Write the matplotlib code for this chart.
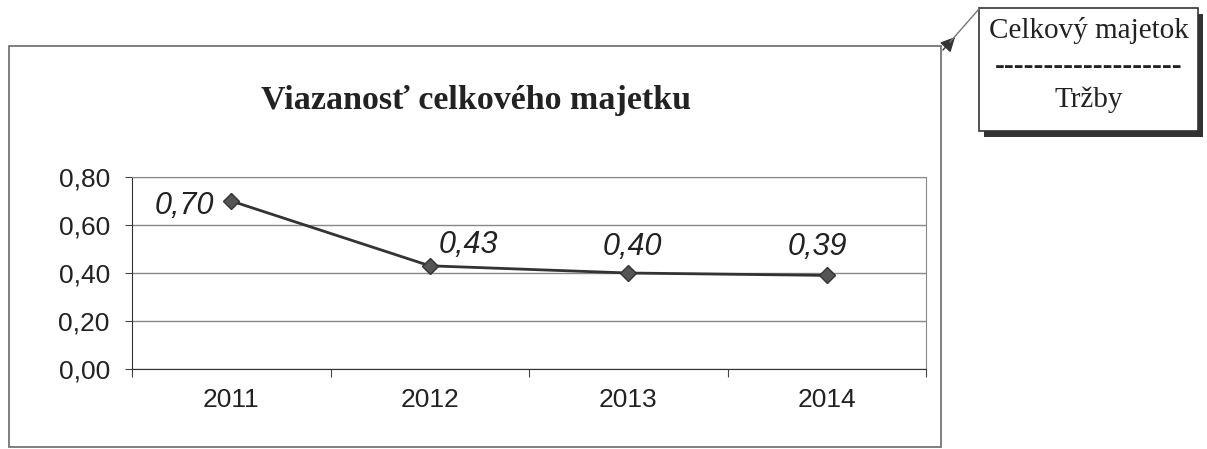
import matplotlib
matplotlib.use("Agg")
import matplotlib.pyplot as plt
from matplotlib.patches import Rectangle, FancyArrowPatch

roky = ["2011", "2012", "2013", "2014"]
viazanost = [0.70, 0.43, 0.40, 0.39]
popisky = ["0,70", "0,43", "0,40", "0,39"]
y_ticky = [0.0, 0.2, 0.4, 0.6, 0.8]
y_popisky = ["0,00", "0,20", "0,40", "0,60", "0,80"]

W, H = 1207, 449
fig = plt.figure(figsize=(W / 100, H / 100), dpi=100)


def fx(px):
    return px / W


def fy(py):
    return 1 - py / H


# vonkajší rámik grafu
fig.patches.append(Rectangle((fx(9), fy(447)), fx(941) - fx(9), fy(46) - fy(447),
                             transform=fig.transFigure, fill=False,
                             edgecolor="#6a6a6a", lw=1.2))

fig.text(fx(476), fy(100), "Viazanosť celkového majetku", ha="center", va="center",
         family="Liberation Serif", fontweight="bold", fontsize=24.5, color="#222222")

ax = fig.add_axes([fx(132), fy(369), fx(926) - fx(132), fy(177) - fy(369)])
x = list(range(len(roky)))
ax.plot(x, viazanost, color="#333333", lw=2, marker="D", markersize=8,
        markerfacecolor="#555555", markeredgecolor="#333333", zorder=3)

ax.set_xlim(-0.5, len(roky) - 0.5)
ax.set_ylim(0, 0.8)
ax.set_yticks(y_ticky)
ax.set_yticklabels(y_popisky)
ax.set_xticks([i - 0.5 for i in range(len(roky) + 1)])
ax.set_xticklabels([])
ax.set_xticks(x, minor=True)
ax.set_xticklabels(roky, minor=True)
ax.tick_params(axis="x", which="major", length=6, direction="out", color="#444444")
ax.tick_params(axis="x", which="minor", length=0, pad=14)
ax.tick_params(axis="y", length=5, direction="out", pad=11, color="#444444")
for lbl in ax.get_xticklabels(minor=True) + ax.get_yticklabels():
    lbl.set_family("Liberation Sans")
    lbl.set_fontsize(19)
    lbl.set_color("#222222")

ax.yaxis.grid(True, color="#888888", lw=1)
ax.set_axisbelow(True)
ax.spines["left"].set_color("#333333")
ax.spines["bottom"].set_color("#333333")
ax.spines["top"].set_color("#888888")
ax.spines["right"].set_color("#888888")

# popisky hodnôt
posuny = [(-47, -5), (39, 21), (4, 26), (-9, 28)]
for xi, yi, txt, (dx, dy) in zip(x, viazanost, popisky, posuny):
    ax.annotate(txt, (xi, yi), xytext=(dx, dy), textcoords="offset pixels",
                ha="center", va="center", family="Liberation Sans", style="italic",
                fontsize=22, color="#222222")

# rámček so vzorcom a tieňom
fig.patches.append(Rectangle((fx(984), fy(137)), fx(1203) - fx(984), fy(14) - fy(137),
                             transform=fig.transFigure, facecolor="#333333",
                             edgecolor="none"))
fig.patches.append(Rectangle((fx(979), fy(131)), fx(1198) - fx(979), fy(8) - fy(131),
                             transform=fig.transFigure, facecolor="white",
                             edgecolor="#333333", lw=1.2))
fig.text(fx(1089), fy(31), "Celkový majetok", ha="center", va="center",
         family="Liberation Serif", fontsize=21, color="#222222")
fig.text(fx(1089), fy(66), "-------------------", ha="center", va="center",
         family="Liberation Serif", fontsize=21, fontweight="bold", color="#222222")
fig.text(fx(1089), fy(100), "Tržby", ha="center", va="center",
         family="Liberation Serif", fontsize=21, color="#222222")

# spojovacia čiara so šípkou
fig.add_artist(plt.Line2D([fx(950), fx(979)], [fy(42), fy(9)],
                          transform=fig.transFigure, color="#777777", lw=1))
fig.patches.append(FancyArrowPatch(
    (fx(941), fy(52)), (fx(957), fy(35)), transform=fig.transFigure,
    arrowstyle="-|>", mutation_scale=22, color="#333333", lw=1))

fig.savefig("out.png", dpi=100)
